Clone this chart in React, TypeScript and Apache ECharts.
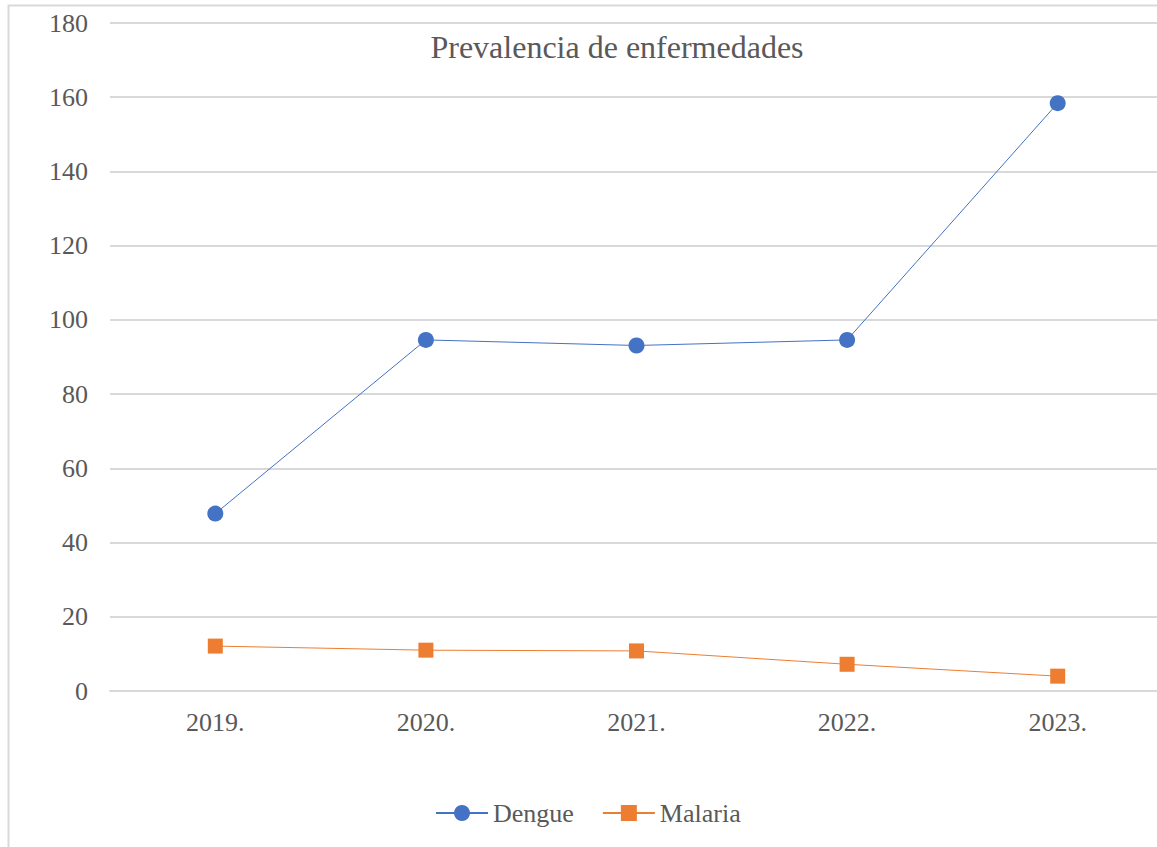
import React, { useEffect, useRef } from "react";
import * as echarts from "echarts";

const categories = ["2019.", "2020.", "2021.", "2022.", "2023."];
const dengue = [47.8, 94.6, 93.1, 94.6, 158.4];
const malaria = [12.1, 11.0, 10.8, 7.2, 4.0];
const titleText = "Prevalencia de enfermedades";

export default function App() {
  const ref = useRef<HTMLDivElement>(null);
  useEffect(() => {
    document.body.style.margin = "0";
    const chart = echarts.init(ref.current!, null, { renderer: "svg" });
    const font = "Liberation Serif, serif";
    const legendText = { fontFamily: font, fontSize: 26, color: "#595959" };
    chart.setOption({
      animation: false,
      backgroundColor: "#ffffff",
      textStyle: { fontFamily: font },
      title: {
        text: titleText,
        left: 612,
        top: 26,
        textAlign: "center",
        textStyle: { fontFamily: font, fontSize: 32, fontWeight: "normal", color: "#595959" },
      },
      graphic: [
        {
          type: "rect",
          shape: { x: 8.5, y: 5.5, width: 1200, height: 900 },
          style: { fill: "none", stroke: "#d9d9d9", lineWidth: 2 },
          z: -1,
        },
      ],
      legend: {
        top: 795,
        left: 430,
        itemWidth: 52,
        itemHeight: 20,
        itemGap: 28,
        textStyle: legendText,
        data: [
          { name: "Dengue", textStyle: legendText },
          { name: "Malaria", textStyle: legendText },
        ],
      },
      grid: { left: 110, right: 0, top: 23, bottom: 156 },
      xAxis: {
        type: "category",
        data: categories,
        boundaryGap: true,
        axisLine: { show: true, lineStyle: { color: "#d9d9d9", width: 2 } },
        axisTick: { show: false },
        axisLabel: { fontFamily: font, fontSize: 26, color: "#595959", margin: 18 },
      },
      yAxis: {
        type: "value",
        min: 0,
        max: 180,
        interval: 20,
        axisLine: { show: false },
        axisTick: { show: false },
        splitLine: { lineStyle: { color: "#d9d9d9", width: 2 } },
        axisLabel: { fontFamily: font, fontSize: 26, color: "#595959", margin: 22 },
      },
      series: [
        {
          name: "Dengue",
          type: "line",
          data: dengue,
          symbol: "circle",
          symbolSize: 16,
          lineStyle: { color: "#4472C4", width: 1 },
          itemStyle: { color: "#4472C4" },
        },
        {
          name: "Malaria",
          type: "line",
          data: malaria,
          symbol: "rect",
          symbolSize: 15,
          lineStyle: { color: "#ED7D31", width: 1 },
          itemStyle: { color: "#ED7D31" },
        },
      ],
    });
    return () => chart.dispose();
  }, []);
  return (
    <div
      style={{ position: "fixed", left: 0, top: 0, width: 1157, height: 847, overflow: "hidden" }}
    >
      <div ref={ref} style={{ position: "absolute", left: 0, top: 0, width: 1163, height: 847 }} />
    </div>
  );
}
